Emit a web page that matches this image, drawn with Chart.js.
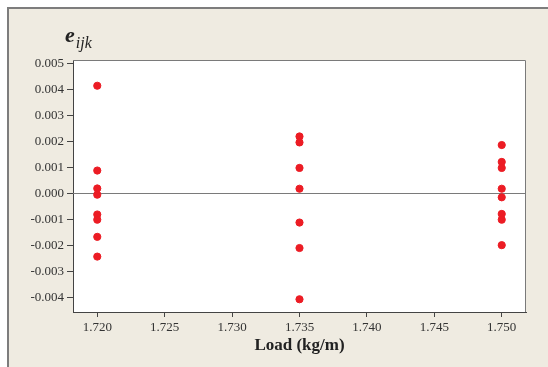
<!DOCTYPE html>
<html>
<head>
<meta charset="utf-8">
<script src="https://cdn.jsdelivr.net/npm/chart.js@4/dist/chart.umd.min.js"></script>
<style>
  body { margin: 0; background: #fff; }
  #wrap { position: relative; width: 548px; height: 367px; }
  #ylab { position: absolute; left: 65px; top: 22px; font-family: "Liberation Serif", serif; color: #222; white-space: nowrap; }
  #ylab b { font-size: 22px; font-style: italic; }
  #ylab sub { font-size: 16px; font-style: italic; vertical-align: -6px; margin-left: 1px; }
</style>
</head>
<body>
<div id="wrap">
  <canvas id="residChart"></canvas>
  <div id="ylab"><b>e</b><sub>ijk</sub></div>
</div>
<script>
(function () {
  'use strict'

  // residuals at each load level
  var loads = [1.720, 1.735, 1.750];
  var resid1720 = [0.00413, 0.00087, 0.00018, -0.00006, -0.00082, -0.00102, -0.00168, -0.00244];
  var resid1735 = [0.00218, 0.00195, 0.00097, 0.00017, -0.00113, -0.00211, -0.00408];
  var resid1750 = [0.00185, 0.00120, 0.00097, 0.00017, -0.00016, -0.00080, -0.00102, -0.00200];

  var xTicks = [1.720, 1.725, 1.730, 1.735, 1.740, 1.745, 1.750];
  var yTicks = [0.005, 0.004, 0.003, 0.002, 0.001, 0, -0.001, -0.002, -0.003, -0.004];

  var points = [];
  [resid1720, resid1735, resid1750].forEach(function (arr, i) {
    arr.forEach(function (v) { points.push({ x: loads[i], y: v }); });
  });

  var serif = '"Liberation Serif", "Times New Roman", serif';

  // beige frame, white plot area, zero line, plot border
  var framePlugin = {
    id: 'frame',
    beforeDraw: function (chart) {
      var c = chart.ctx, a = chart.chartArea;
      c.save();
      c.fillStyle = '#efebe1';
      c.fillRect(7, 7, chart.width, chart.height);
      c.strokeStyle = '#7d7d7d';
      c.lineWidth = 2;
      c.beginPath();
      c.moveTo(8, chart.height); c.lineTo(8, 8); c.lineTo(chart.width, 8);
      c.stroke();
      c.fillStyle = '#ffffff';
      c.fillRect(a.left, a.top, a.right - a.left, a.bottom - a.top);
      c.restore();
    },
    beforeDatasetsDraw: function (chart) {
      var c = chart.ctx, a = chart.chartArea;
      var y0 = Math.round(chart.scales.y.getPixelForValue(0)) + 0.5;
      c.save();
      c.strokeStyle = '#7a7a7a';
      c.lineWidth = 1;
      c.beginPath();
      c.moveTo(a.left, y0); c.lineTo(a.right, y0);
      c.moveTo(a.left, a.top + 0.5); c.lineTo(a.right - 0.5, a.top + 0.5); c.lineTo(a.right - 0.5, a.bottom);
      c.stroke();
      c.restore();
    }
  };

  var ctx = document.getElementById('residChart').getContext('2d');
  var residChart = new Chart(ctx, {
    type: 'scatter',
    data: {
      datasets: [{
        data: points,
        backgroundColor: '#ec1c24',
        borderColor: '#ec1c24',
        pointRadius: 3.6,
        pointHoverRadius: 3.6
      }]
    },
    options: {
      responsive: true,
      maintainAspectRatio: false,
      animation: false,
      plugins: { legend: { display: false }, tooltip: { enabled: false } },
      layout: { padding: { left: 0, right: 22, top: 60, bottom: 0 } },
      scales: {
        x: {
          type: 'linear',
          min: 1.7182,
          max: 1.7518,
          afterBuildTicks: function (s) { s.ticks = xTicks.map(function (v) { return { value: v }; }); },
          afterFit: function (s) { s.height = 55; },
          ticks: {
            callback: function (v) { return v.toFixed(3); },
            font: { family: serif, size: 13 },
            color: '#333',
            padding: 3,
            maxRotation: 0
          },
          grid: { drawOnChartArea: false, tickLength: 5, color: '#444' },
          border: { color: '#444', width: 1 },
          title: {
            display: true,
            text: 'Load (kg/m)',
            font: { family: serif, size: 17, weight: 'bold' },
            color: '#222',
            padding: { top: 0, bottom: 11 }
          }
        },
        y: {
          min: -0.00457,
          max: 0.00512,
          afterBuildTicks: function (s) { s.ticks = yTicks.map(function (v) { return { value: v }; }); },
          afterFit: function (s) { s.width = 73; },
          ticks: {
            callback: function (v) { return v.toFixed(3); },
            font: { family: serif, size: 13 },
            color: '#333',
            padding: 3
          },
          grid: { drawOnChartArea: false, tickLength: 6, color: '#444' },
          border: { color: '#444', width: 1 }
        }
      }
    },
    plugins: [framePlugin]
  });
})()
</script>
</body>
</html>
